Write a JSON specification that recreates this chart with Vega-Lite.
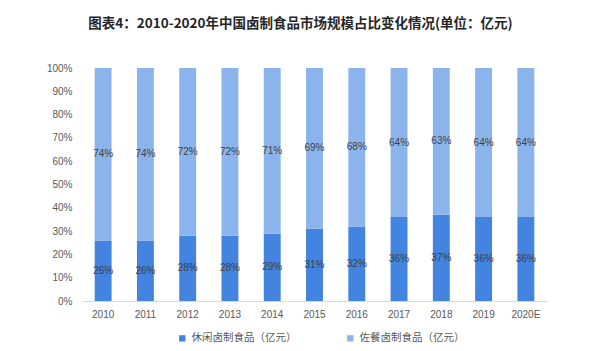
{
  "$schema": "https://vega.github.io/schema/vega-lite/v6.json",
  "autosize": {"type": "none"},
  "width": 465,
  "height": 233,
  "padding": {"left": 82, "top": 68, "right": 53, "bottom": 50},
  "background": "white",
  "config": {
    "view": {"stroke": null},
    "font": "Noto Sans CJK SC"
  },
  "title": {
    "text": "图表4：2010-2020年中国卤制食品市场规模占比变化情况(单位：亿元)",
    "font": "Noto Sans CJK SC",
    "fontSize": 13.5,
    "fontWeight": "bold",
    "color": "#262626",
    "anchor": "middle",
    "frame": "group",
    "dx": -14,
    "offset": 33
  },
  "data": {
    "values": [
      {"year": "2010", "type": "休闲卤制食品（亿元）", "value": 26, "ord": 1},
      {"year": "2011", "type": "休闲卤制食品（亿元）", "value": 26, "ord": 1},
      {"year": "2012", "type": "休闲卤制食品（亿元）", "value": 28, "ord": 1},
      {"year": "2013", "type": "休闲卤制食品（亿元）", "value": 28, "ord": 1},
      {"year": "2014", "type": "休闲卤制食品（亿元）", "value": 29, "ord": 1},
      {"year": "2015", "type": "休闲卤制食品（亿元）", "value": 31, "ord": 1},
      {"year": "2016", "type": "休闲卤制食品（亿元）", "value": 32, "ord": 1},
      {"year": "2017", "type": "休闲卤制食品（亿元）", "value": 36, "ord": 1},
      {"year": "2018", "type": "休闲卤制食品（亿元）", "value": 37, "ord": 1},
      {"year": "2019", "type": "休闲卤制食品（亿元）", "value": 36, "ord": 1},
      {"year": "2020E", "type": "休闲卤制食品（亿元）", "value": 36, "ord": 1},
      {"year": "2010", "type": "佐餐卤制食品（亿元）", "value": 74, "ord": 2},
      {"year": "2011", "type": "佐餐卤制食品（亿元）", "value": 74, "ord": 2},
      {"year": "2012", "type": "佐餐卤制食品（亿元）", "value": 72, "ord": 2},
      {"year": "2013", "type": "佐餐卤制食品（亿元）", "value": 72, "ord": 2},
      {"year": "2014", "type": "佐餐卤制食品（亿元）", "value": 71, "ord": 2},
      {"year": "2015", "type": "佐餐卤制食品（亿元）", "value": 69, "ord": 2},
      {"year": "2016", "type": "佐餐卤制食品（亿元）", "value": 68, "ord": 2},
      {"year": "2017", "type": "佐餐卤制食品（亿元）", "value": 64, "ord": 2},
      {"year": "2018", "type": "佐餐卤制食品（亿元）", "value": 63, "ord": 2},
      {"year": "2019", "type": "佐餐卤制食品（亿元）", "value": 64, "ord": 2},
      {"year": "2020E", "type": "佐餐卤制食品（亿元）", "value": 64, "ord": 2}
    ]
  },
  "transform": [
    {"stack": "value", "groupby": ["year"], "sort": [{"field": "ord", "order": "ascending"}], "as": ["y0", "y1"]},
    {"calculate": "(datum.y0 + datum.y1) / 2", "as": "ymid"},
    {"calculate": "datum.value + '%'", "as": "label"}
  ],
  "encoding": {
    "x": {
      "field": "year",
      "type": "ordinal",
      "title": null,
      "scale": {"paddingInner": 0.6, "paddingOuter": 0.3},
      "axis": {
        "labelAngle": 0,
        "labelFont": "Liberation Sans",
        "labelFontSize": 10,
        "labelColor": "#595959",
        "domainColor": "#d9d9d9",
        "ticks": false,
        "labelPadding": 8
      }
    }
  },
  "layer": [
    {
      "mark": {"type": "bar"},
      "encoding": {
        "y": {
          "field": "y0",
          "type": "quantitative",
          "scale": {"domain": [0, 100]},
          "title": null,
          "axis": {
            "values": [0, 10, 20, 30, 40, 50, 60, 70, 80, 90, 100],
            "tickCount": 11,
            "labelExpr": "datum.value + '%'",
            "labelOverlap": false,
            "labelFont": "Liberation Sans",
            "labelFontSize": 10,
            "labelColor": "#595959",
            "domain": false,
            "ticks": false,
            "grid": false,
            "labelPadding": 10
          }
        },
        "y2": {"field": "y1"},
        "color": {
          "field": "type",
          "type": "nominal",
          "sort": ["休闲卤制食品（亿元）", "佐餐卤制食品（亿元）"],
          "scale": {"domain": ["休闲卤制食品（亿元）", "佐餐卤制食品（亿元）"], "range": ["#4384e0", "#8cb4ec"]},
          "legend": {
            "title": null,
            "orient": "none",
            "direction": "horizontal",
            "legendX": 95,
            "legendY": 265,
            "symbolType": "square",
            "symbolSize": 40,
            "labelFontSize": 10.5,
            "labelColor": "#595959",
            "labelFont": "Noto Sans CJK SC",
            "columnPadding": 48
          }
        }
      }
    },
    {
      "mark": {"type": "text", "fontSize": 10, "color": "#404040", "font": "Liberation Sans"},
      "encoding": {
        "y": {
          "field": "ymid",
          "type": "quantitative",
          "title": null,
          "axis": {
            "values": [0, 10, 20, 30, 40, 50, 60, 70, 80, 90, 100],
            "tickCount": 11,
            "labelExpr": "datum.value + '%'",
            "labelOverlap": false,
            "labelFont": "Liberation Sans",
            "labelFontSize": 10,
            "labelColor": "#595959",
            "domain": false,
            "ticks": false,
            "grid": false,
            "labelPadding": 10
          }
        },
        "text": {"field": "label", "type": "nominal"}
      }
    }
  ]
}
